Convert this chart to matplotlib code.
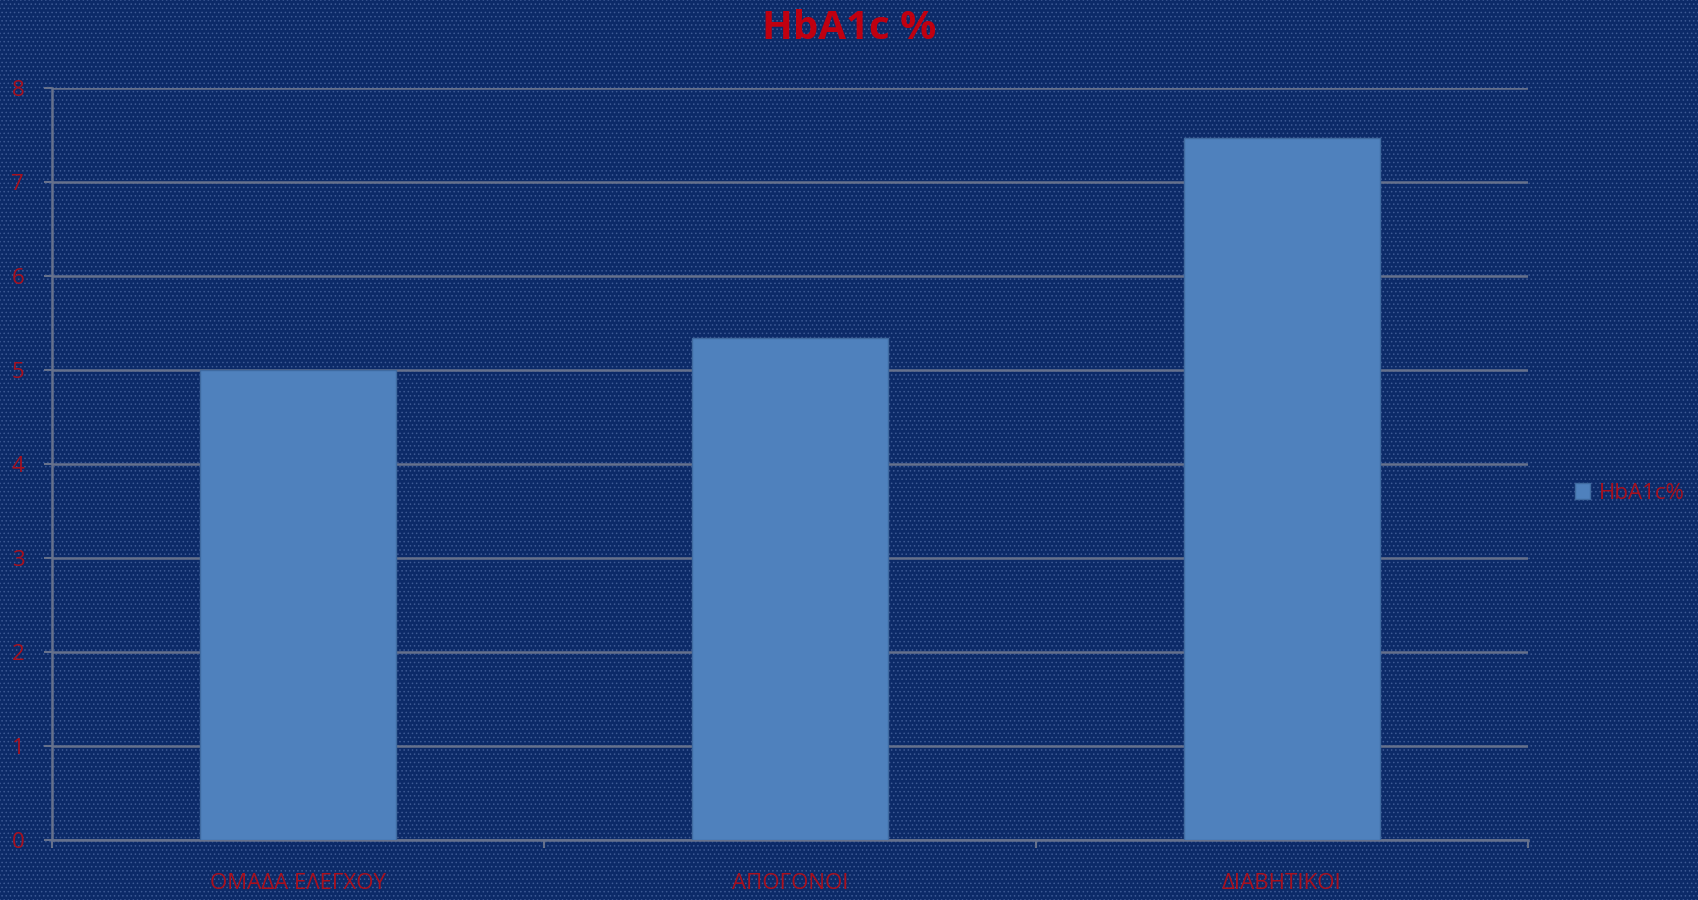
import matplotlib
matplotlib.use('Agg')
import matplotlib.pyplot as plt
from matplotlib.patches import Rectangle

plt.rcParams['font.family'] = ['Open Sans', 'DejaVu Sans']

# 数据
categories = ['ΟΜΑΔΑ ΕΛΕΓΧΟΥ', 'ΑΠΟΓΟΝΟΙ', 'ΔΙΑΒΗΤΙΚΟΙ']
values = [5.0, 5.34, 7.47]
series_name = 'HbA1c%'
title = 'HbA1c %'
y_ticks = [0, 1, 2, 3, 4, 5, 6, 7, 8]

bg = '#0c2a68'
bar_color = '#4f81bd'
text_red = '#a8101e'
grid_color = '#66718c'

fig = plt.figure(figsize=(16.99, 9), dpi=100)
fig.patch.set_facecolor(bg)
# 背景点纹
plt.rcParams['hatch.linewidth'] = 0.6
fig.patches.append(Rectangle((0, 0), 1, 1, transform=fig.transFigure,
                             facecolor='none', edgecolor='#3d5a95',
                             hatch='....', linewidth=0, zorder=-1))

ax = fig.add_axes([52 / 1699, 60 / 900, (1528 - 52) / 1699, (840 - 88) / 900])
ax.set_facecolor('none')

x = list(range(len(categories)))
ax.bar(x, values, width=0.4, color=bar_color, edgecolor='#3f6aa0',
       linewidth=1, label=series_name, zorder=3)

ax.set_xlim(-0.5, len(categories) - 0.5)
ax.set_ylim(0, 8)
ax.set_yticks(y_ticks)
ax.set_yticklabels([str(t) for t in y_ticks], color=text_red, fontsize=16)
ax.set_xticks(x)
ax.set_xticklabels(categories, color=text_red, fontsize=16)
ax.set_xticks([i + 0.5 for i in range(-1, len(categories))], minor=True)

ax.tick_params(axis='y', length=6, width=1.5, color=grid_color, pad=14)
ax.tick_params(axis='x', which='major', length=0, pad=24)
ax.tick_params(axis='x', which='minor', length=6, width=1.5, color=grid_color)

ax.grid(axis='y', color=grid_color, linewidth=1.8, zorder=0)
for side in ['top', 'right']:
    ax.spines[side].set_visible(False)
for side in ['left', 'bottom']:
    ax.spines[side].set_color(grid_color)
    ax.spines[side].set_linewidth(1.8)

fig.text(0.5, 0.968, title, ha='center', va='center', color='#c00010',
         fontsize=29, fontweight='bold')

leg = ax.legend(loc='center left', bbox_to_anchor=(1.018, 0.461), frameon=False,
                fontsize=16, handlelength=0.7, handleheight=0.7,
                handletextpad=0.4)
for t in leg.get_texts():
    t.set_color(text_red)

fig.savefig('out.png', dpi=100, facecolor=bg)
